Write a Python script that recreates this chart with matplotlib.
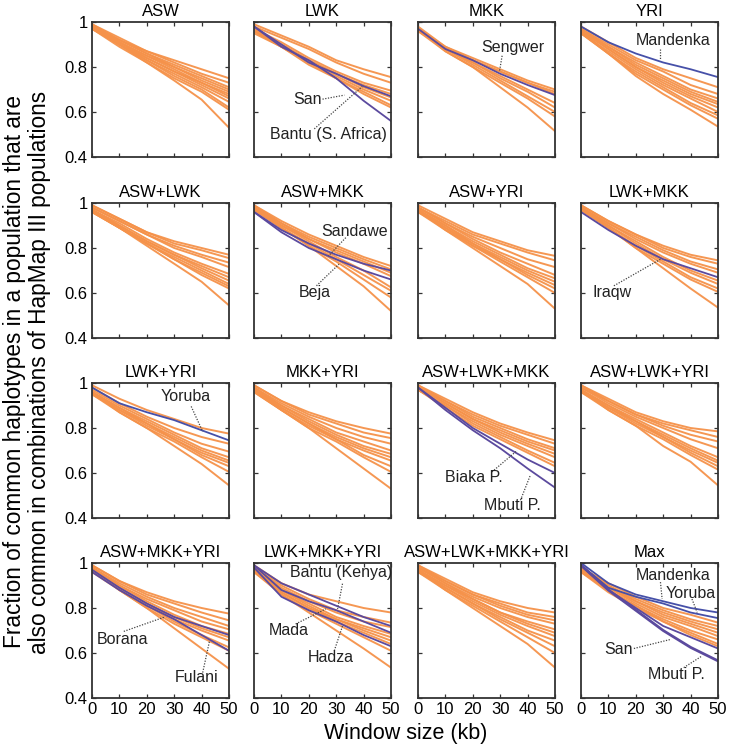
import matplotlib
matplotlib.use("Agg")
import matplotlib.pyplot as plt

plt.rcParams['font.family'] = ['Liberation Sans', 'DejaVu Sans']

window_kb = [0, 10, 20, 30, 40, 50]
titles = ["ASW", "LWK", "MKK", "YRI",
          "ASW+LWK", "ASW+MKK", "ASW+YRI", "LWK+MKK",
          "LWK+YRI", "MKK+YRI", "ASW+LWK+MKK", "ASW+LWK+YRI",
          "ASW+MKK+YRI", "LWK+MKK+YRI", "ASW+LWK+MKK+YRI", "Max"]

# orange lines (other populations), one list per panel
asw = [[0.99, 0.93, 0.87, 0.83, 0.79, 0.75], [0.98, 0.92, 0.87, 0.82, 0.77, 0.73],
       [0.98, 0.92, 0.86, 0.81, 0.76, 0.71], [0.99, 0.92, 0.86, 0.80, 0.75, 0.70],
       [0.98, 0.91, 0.85, 0.80, 0.74, 0.69], [0.97, 0.91, 0.85, 0.79, 0.73, 0.68],
       [0.98, 0.91, 0.84, 0.78, 0.73, 0.67], [0.97, 0.90, 0.84, 0.78, 0.72, 0.66],
       [0.98, 0.90, 0.83, 0.77, 0.71, 0.645], [0.97, 0.90, 0.83, 0.76, 0.70, 0.62],
       [0.97, 0.89, 0.82, 0.75, 0.69, 0.61], [0.98, 0.90, 0.82, 0.74, 0.655, 0.53]]
lwk = [[0.99, 0.94, 0.89, 0.83, 0.79, 0.755], [0.98, 0.93, 0.88, 0.82, 0.77, 0.73],
       [0.97, 0.91, 0.84, 0.78, 0.73, 0.695], [0.97, 0.90, 0.83, 0.77, 0.72, 0.68],
       [0.96, 0.90, 0.83, 0.77, 0.71, 0.665], [0.96, 0.89, 0.82, 0.76, 0.70, 0.65],
       [0.96, 0.89, 0.82, 0.75, 0.69, 0.63], [0.95, 0.89, 0.81, 0.75, 0.68, 0.62]]
mkk = [[0.98, 0.89, 0.84, 0.79, 0.74, 0.70], [0.97, 0.89, 0.83, 0.78, 0.73, 0.69],
       [0.97, 0.88, 0.83, 0.78, 0.73, 0.68], [0.97, 0.88, 0.82, 0.76, 0.70, 0.64],
       [0.97, 0.88, 0.82, 0.75, 0.69, 0.62], [0.96, 0.88, 0.81, 0.74, 0.67, 0.60],
       [0.96, 0.87, 0.80, 0.73, 0.66, 0.58], [0.97, 0.87, 0.80, 0.71, 0.62, 0.515]]
yri = [[0.98, 0.91, 0.84, 0.79, 0.75, 0.71], [0.97, 0.90, 0.83, 0.78, 0.72, 0.68],
       [0.97, 0.89, 0.82, 0.76, 0.70, 0.66], [0.96, 0.89, 0.81, 0.75, 0.69, 0.645],
       [0.96, 0.88, 0.80, 0.74, 0.68, 0.635], [0.96, 0.88, 0.80, 0.73, 0.67, 0.62],
       [0.95, 0.87, 0.79, 0.72, 0.66, 0.60], [0.95, 0.86, 0.78, 0.71, 0.64, 0.585],
       [0.95, 0.86, 0.77, 0.70, 0.63, 0.57], [0.96, 0.86, 0.76, 0.68, 0.61, 0.535]]
asw_lwk = [[0.99, 0.93, 0.87, 0.83, 0.80, 0.77], [0.99, 0.93, 0.87, 0.82, 0.79, 0.755],
           [0.98, 0.92, 0.86, 0.81, 0.77, 0.735], [0.98, 0.92, 0.86, 0.80, 0.76, 0.715],
           [0.97, 0.91, 0.84, 0.78, 0.73, 0.685], [0.97, 0.90, 0.83, 0.77, 0.72, 0.67],
           [0.97, 0.90, 0.83, 0.77, 0.71, 0.655], [0.96, 0.89, 0.82, 0.76, 0.70, 0.64],
           [0.96, 0.89, 0.82, 0.75, 0.69, 0.63], [0.96, 0.89, 0.82, 0.75, 0.68, 0.62],
           [0.97, 0.89, 0.81, 0.73, 0.65, 0.545]]
asw_mkk = [[0.99, 0.92, 0.86, 0.81, 0.76, 0.72], [0.99, 0.91, 0.85, 0.80, 0.75, 0.705],
           [0.98, 0.91, 0.84, 0.79, 0.74, 0.69], [0.98, 0.90, 0.84, 0.78, 0.73, 0.675],
           [0.98, 0.90, 0.83, 0.76, 0.70, 0.625], [0.97, 0.89, 0.82, 0.75, 0.68, 0.61],
           [0.97, 0.89, 0.81, 0.74, 0.66, 0.58], [0.98, 0.89, 0.81, 0.72, 0.63, 0.52]]
asw_yri = [[0.99, 0.93, 0.87, 0.83, 0.79, 0.765], [0.98, 0.92, 0.86, 0.82, 0.78, 0.745],
           [0.98, 0.91, 0.85, 0.80, 0.75, 0.715], [0.98, 0.91, 0.84, 0.78, 0.73, 0.68],
           [0.97, 0.90, 0.83, 0.77, 0.71, 0.665], [0.97, 0.90, 0.82, 0.76, 0.70, 0.65],
           [0.97, 0.89, 0.82, 0.75, 0.69, 0.635], [0.96, 0.89, 0.81, 0.75, 0.68, 0.62],
           [0.96, 0.88, 0.81, 0.74, 0.67, 0.60], [0.97, 0.88, 0.80, 0.72, 0.64, 0.53]]
lwk_mkk = [[0.99, 0.92, 0.86, 0.81, 0.77, 0.745], [0.99, 0.92, 0.86, 0.80, 0.76, 0.73],
           [0.98, 0.91, 0.85, 0.79, 0.74, 0.705], [0.98, 0.91, 0.84, 0.78, 0.73, 0.69],
           [0.98, 0.90, 0.83, 0.76, 0.70, 0.655], [0.97, 0.90, 0.82, 0.75, 0.69, 0.64],
           [0.97, 0.89, 0.81, 0.74, 0.67, 0.62], [0.97, 0.89, 0.80, 0.73, 0.66, 0.605],
           [0.98, 0.89, 0.80, 0.71, 0.62, 0.535]]
lwk_yri = [[0.99, 0.93, 0.88, 0.84, 0.80, 0.775], [0.98, 0.91, 0.85, 0.80, 0.76, 0.73],
           [0.97, 0.90, 0.84, 0.78, 0.73, 0.695], [0.96, 0.89, 0.83, 0.77, 0.71, 0.67],
           [0.96, 0.89, 0.82, 0.76, 0.70, 0.655], [0.96, 0.88, 0.82, 0.75, 0.69, 0.645],
           [0.95, 0.88, 0.81, 0.75, 0.68, 0.63], [0.95, 0.87, 0.80, 0.74, 0.67, 0.605],
           [0.96, 0.87, 0.80, 0.72, 0.64, 0.545]]
mkk_yri = [[0.99, 0.92, 0.87, 0.83, 0.80, 0.775], [0.99, 0.92, 0.86, 0.82, 0.78, 0.755],
           [0.98, 0.91, 0.85, 0.80, 0.76, 0.73], [0.98, 0.90, 0.84, 0.78, 0.74, 0.70],
           [0.97, 0.90, 0.83, 0.77, 0.72, 0.685], [0.97, 0.89, 0.82, 0.76, 0.71, 0.67],
           [0.97, 0.89, 0.82, 0.75, 0.70, 0.655], [0.96, 0.88, 0.81, 0.75, 0.68, 0.63],
           [0.96, 0.88, 0.80, 0.74, 0.67, 0.605], [0.97, 0.88, 0.80, 0.71, 0.62, 0.53]]
asw_lwk_mkk = [[0.99, 0.93, 0.87, 0.82, 0.78, 0.745], [0.99, 0.92, 0.86, 0.81, 0.77, 0.73],
               [0.98, 0.92, 0.85, 0.80, 0.75, 0.71], [0.98, 0.91, 0.84, 0.79, 0.74, 0.70],
               [0.98, 0.91, 0.84, 0.78, 0.73, 0.685], [0.97, 0.90, 0.83, 0.77, 0.72, 0.67],
               [0.97, 0.90, 0.82, 0.76, 0.70, 0.645], [0.97, 0.89, 0.81, 0.75, 0.69, 0.63]]
asw_lwk_yri = [[0.99, 0.93, 0.87, 0.83, 0.80, 0.785], [0.99, 0.92, 0.86, 0.82, 0.79, 0.76],
               [0.98, 0.92, 0.86, 0.81, 0.77, 0.74], [0.98, 0.91, 0.85, 0.80, 0.75, 0.71],
               [0.97, 0.90, 0.84, 0.78, 0.72, 0.67], [0.97, 0.90, 0.83, 0.77, 0.71, 0.655],
               [0.97, 0.89, 0.83, 0.76, 0.70, 0.645], [0.96, 0.89, 0.82, 0.76, 0.69, 0.63],
               [0.96, 0.88, 0.81, 0.75, 0.68, 0.615], [0.97, 0.88, 0.81, 0.72, 0.65, 0.545]]
asw_mkk_yri = [[0.99, 0.92, 0.87, 0.83, 0.80, 0.775], [0.99, 0.92, 0.86, 0.82, 0.78, 0.745],
               [0.98, 0.91, 0.85, 0.80, 0.76, 0.72], [0.98, 0.90, 0.84, 0.79, 0.74, 0.705],
               [0.98, 0.90, 0.83, 0.77, 0.72, 0.685], [0.97, 0.89, 0.82, 0.76, 0.71, 0.67],
               [0.97, 0.89, 0.82, 0.75, 0.70, 0.655], [0.97, 0.88, 0.81, 0.74, 0.68, 0.625],
               [0.96, 0.88, 0.80, 0.73, 0.67, 0.61], [0.98, 0.88, 0.80, 0.71, 0.62, 0.53]]
lwk_mkk_yri = [[0.99, 0.91, 0.86, 0.83, 0.80, 0.78], [0.98, 0.90, 0.84, 0.79, 0.76, 0.735],
               [0.98, 0.89, 0.83, 0.78, 0.74, 0.715], [0.97, 0.88, 0.82, 0.76, 0.72, 0.685],
               [0.97, 0.88, 0.81, 0.75, 0.71, 0.67], [0.97, 0.87, 0.80, 0.75, 0.70, 0.655],
               [0.96, 0.87, 0.80, 0.74, 0.69, 0.64], [0.96, 0.86, 0.79, 0.73, 0.67, 0.61],
               [0.97, 0.86, 0.78, 0.70, 0.62, 0.535]]
asw_lwk_mkk_yri = [[0.99, 0.93, 0.87, 0.83, 0.80, 0.78], [0.99, 0.92, 0.86, 0.82, 0.78, 0.76],
                   [0.98, 0.92, 0.86, 0.81, 0.77, 0.745], [0.98, 0.91, 0.85, 0.80, 0.76, 0.73],
                   [0.98, 0.91, 0.84, 0.78, 0.74, 0.705], [0.97, 0.90, 0.84, 0.78, 0.73, 0.69],
                   [0.97, 0.90, 0.83, 0.77, 0.72, 0.675], [0.97, 0.89, 0.82, 0.76, 0.70, 0.655],
                   [0.96, 0.89, 0.82, 0.75, 0.69, 0.63], [0.96, 0.88, 0.81, 0.74, 0.67, 0.60],
                   [0.97, 0.88, 0.80, 0.72, 0.64, 0.535]]
max_all = [[0.98, 0.91, 0.85, 0.80, 0.77, 0.735], [0.98, 0.90, 0.84, 0.79, 0.75, 0.72],
           [0.97, 0.90, 0.83, 0.78, 0.74, 0.705], [0.97, 0.89, 0.83, 0.77, 0.73, 0.69],
           [0.97, 0.89, 0.82, 0.76, 0.72, 0.675], [0.97, 0.88, 0.81, 0.75, 0.70, 0.66],
           [0.96, 0.88, 0.81, 0.74, 0.69, 0.64], [0.96, 0.87, 0.80, 0.74, 0.68, 0.63]]

orange_sets = [asw, lwk, mkk, yri, asw_lwk, asw_mkk, asw_yri, lwk_mkk,
               lwk_yri, mkk_yri, asw_lwk_mkk, asw_lwk_yri,
               asw_mkk_yri, lwk_mkk_yri, asw_lwk_mkk_yri, max_all]

# highlighted populations (purple / blue lines)
hl_lwk = {"San": [0.98, 0.90, 0.82, 0.77, 0.715, 0.67],
          "Bantu (S. Africa)": [0.98, 0.89, 0.83, 0.75, 0.65, 0.56]}
hl_mkk = {"Sengwer": [0.97, 0.88, 0.83, 0.77, 0.72, 0.675]}
hl_yri = {"Mandenka": [0.98, 0.91, 0.86, 0.82, 0.79, 0.755]}
hl_asw_mkk = {"Sandawe": [0.96, 0.88, 0.82, 0.77, 0.73, 0.70],
              "Beja": [0.96, 0.87, 0.80, 0.75, 0.70, 0.66]}
hl_lwk_mkk = {"Iraqw": [0.96, 0.88, 0.81, 0.75, 0.71, 0.67]}
hl_lwk_yri = {"Yoruba": [0.98, 0.91, 0.87, 0.835, 0.79, 0.745]}
hl_asw_lwk_mkk = {"Biaka P.": [0.98, 0.89, 0.80, 0.73, 0.66, 0.60],
                  "Mbuti P.": [0.98, 0.88, 0.79, 0.71, 0.62, 0.535]}
hl_asw_mkk_yri = {"Borana": [0.97, 0.89, 0.82, 0.76, 0.72, 0.68],
                  "Fulani": [0.96, 0.88, 0.81, 0.75, 0.68, 0.61]}
hl_lwk_mkk_yri = {"Bantu (Kenya)": [0.99, 0.91, 0.86, 0.81, 0.76, 0.72],
                  "Mada": [0.99, 0.88, 0.83, 0.79, 0.74, 0.69],
                  "Hadza": [0.98, 0.85, 0.79, 0.74, 0.68, 0.63]}
hl_max = {"San": [0.99, 0.88, 0.80, 0.72, 0.67, 0.62],
          "Mandenka": [1.0, 0.91, 0.86, 0.83, 0.80, 0.78],
          "Yoruba": [0.99, 0.89, 0.85, 0.82, 0.78, 0.755],
          "Mbuti P.": [0.99, 0.88, 0.79, 0.70, 0.625, 0.565]}

highlights = {1: hl_lwk, 2: hl_mkk, 3: hl_yri, 5: hl_asw_mkk, 7: hl_lwk_mkk,
              8: hl_lwk_yri, 10: hl_asw_lwk_mkk, 12: hl_asw_mkk_yri,
              13: hl_lwk_mkk_yri, 15: hl_max}

# label placement: panel -> (text, text xy, line start, line end)
labels = {
    1: [("San", (19.5, 0.655), (25, 0.657), (33, 0.675)),
        ("Bantu (S. Africa)", (27, 0.50), (22, 0.525), (39.5, 0.713))],
    2: [("Sengwer", (34.5, 0.886), (30.7, 0.85), (29.7, 0.778))],
    3: [("Mandenka", (33.5, 0.918), (29, 0.88), (29, 0.83))],
    5: [("Sandawe", (36.7, 0.875), (33.5, 0.846), (27.2, 0.765)),
        ("Beja", (22.2, 0.603), (22.8, 0.632), (31, 0.728))],
    7: [("Iraqw", (11.3, 0.60), (12, 0.632), (29, 0.75))],
    8: [("Yoruba", (34.3, 0.94), (36.2, 0.896), (40.4, 0.784))],
    10: [("Biaka P.", (20.3, 0.58), (27, 0.605), (36.2, 0.70)),
         ("Mbuti P.", (34.4, 0.457), (37.4, 0.479), (41, 0.59))],
    12: [("Borana", (11.3, 0.662), (11.6, 0.696), (26.3, 0.759)),
         ("Fulani", (38, 0.49), (40.4, 0.513), (42.9, 0.654))],
    13: [("Bantu (Kenya)", (31.7, 0.957), (32.3, 0.908), (30.5, 0.796)),
         ("Mada", (12.8, 0.70), (15.2, 0.729), (26.2, 0.796)),
         ("Hadza", (28, 0.58), (29.3, 0.61), (32.3, 0.72))],
    15: [("Mandenka", (33.5, 0.945), (29, 0.915), (29.6, 0.84)),
         ("Yoruba", (40.2, 0.866), (40.5, 0.84), (42.4, 0.78)),
         ("San", (13.8, 0.617), (19.3, 0.62), (32.6, 0.66)),
         ("Mbuti P.", (35, 0.505), (37.5, 0.535), (44.2, 0.587))],
}

ORANGE = "#F5924A"
PURPLE = "#5B4A9E"
BLUE = "#4650A8"

fig = plt.figure(figsize=(7.3, 7.5), dpi=100)
W, H = 730, 750
col_left = [92, 254, 418, 581]
row_top = [22, 203, 383, 563]
aw, ah = 137, 135

for i, title in enumerate(titles):
    r, c = divmod(i, 4)
    ax = fig.add_axes([col_left[c] / W, 1 - (row_top[r] + ah) / H, aw / W, ah / H])
    for line in orange_sets[i]:
        ax.plot(window_kb, line, color=ORANGE, lw=1.4, alpha=0.95)
    for name, line in highlights.get(i, {}).items():
        col = BLUE if name in ("Mandenka", "Yoruba") else PURPLE
        lw = 2.0 if (i == 15 and name == "Mbuti P.") else 1.3
        ax.plot(window_kb, line, color=col, lw=lw)
    for txt, xy, p0, p1 in labels.get(i, []):
        ax.plot([p0[0], p1[0]], [p0[1], p1[1]], ls=(0, (1, 1.2)), color="#444444", lw=0.9)
        ax.text(xy[0], xy[1], txt, ha="center", va="center", fontsize=11.5, color="#222222")
    ax.set_xlim(0, 50)
    ax.set_ylim(0.4, 1.0)
    ax.set_xticks([0, 10, 20, 30, 40, 50])
    ax.set_yticks([0.4, 0.6, 0.8, 1.0])
    ax.tick_params(direction="in", top=True, right=True, length=3, width=0.9,
                   labelsize=12, color="#333333", pad=3)
    if r == 3:
        ax.set_xticklabels(["0", "10", "20", "30", "40", "50"])
    else:
        ax.set_xticklabels([])
    if c == 0:
        ax.set_yticklabels(["0.4", "0.6", "0.8", "1"])
    else:
        ax.set_yticklabels([])
    for s in ax.spines.values():
        s.set_linewidth(1.3)
        s.set_color("#333333")
    ax.set_title(title, fontsize=12, pad=4)

fig.text(406 / W, 1 - 733 / H, "Window size (kb)", ha="center", va="center", fontsize=15.5)
fig.text(27 / W, 1 - 372 / H,
         "Fraction of common haplotypes in a population that are\nalso common in combinations of HapMap III populations",
         ha="center", va="center", rotation=90, fontsize=16.3, linespacing=1.1)

fig.savefig("out.png", dpi=100)
